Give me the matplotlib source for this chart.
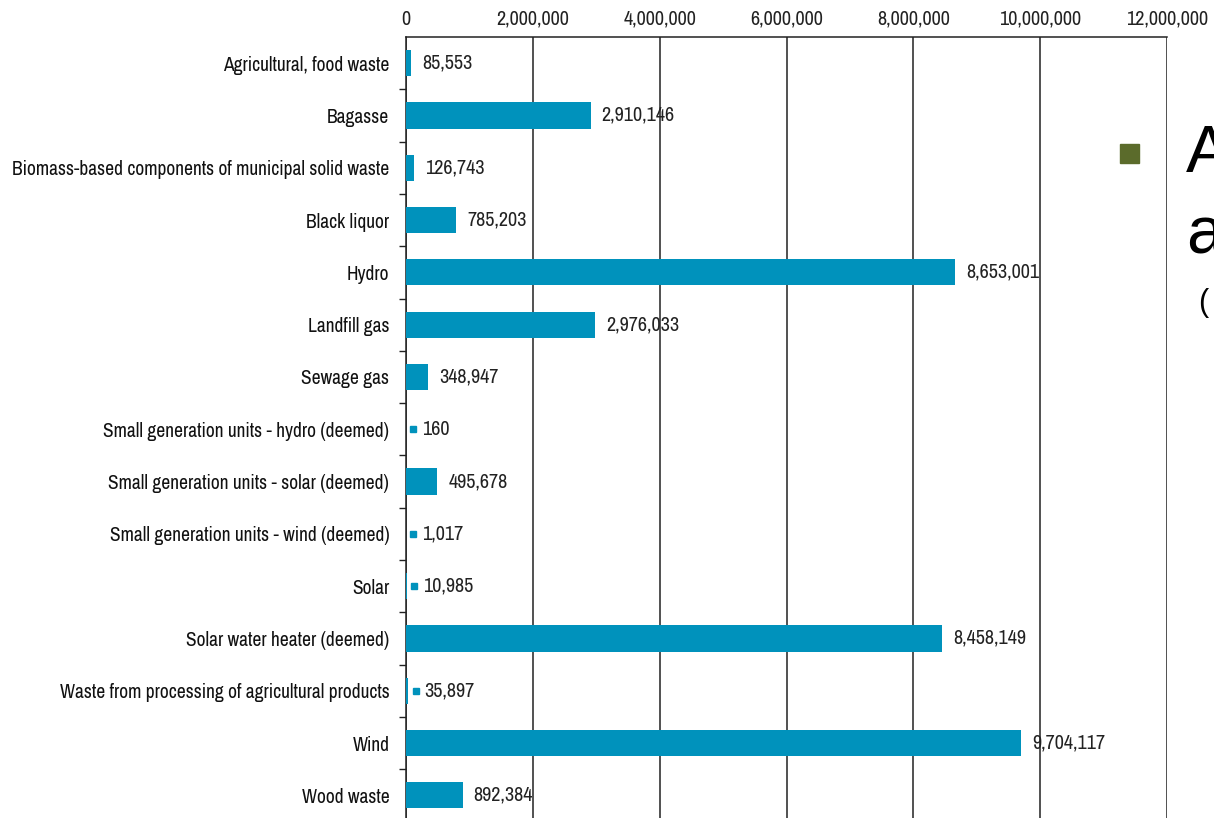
import matplotlib
matplotlib.use("Agg")
import matplotlib.pyplot as plt
from matplotlib.ticker import FuncFormatter, FixedLocator
import matplotlib.transforms as mtransforms

categories = [
    "Agricultural, food waste",
    "Bagasse",
    "Biomass-based components of municipal solid waste",
    "Black liquor",
    "Hydro",
    "Landfill gas",
    "Sewage gas",
    "Small generation units - hydro (deemed)",
    "Small generation units - solar (deemed)",
    "Small generation units - wind (deemed)",
    "Solar",
    "Solar water heater (deemed)",
    "Waste from processing of agricultural products",
    "Wind",
    "Wood waste",
]
values = [85553, 2910146, 126743, 785203, 8653001, 2976033, 348947, 160,
          495678, 1017, 10985, 8458149, 35897, 9704117, 892384]
x_ticks = [0, 2000000, 4000000, 6000000, 8000000, 10000000, 12000000]

bar_color = "#0092BC"
font = ["Liberation Sans Narrow", "Archivo Narrow", "DejaVu Sans"]
plt.rcParams["font.family"] = font
fs = 14
nfs = 14.5

fig = plt.figure(figsize=(12.14, 8.18), dpi=100)
ax = fig.add_axes([406/1214, 1 - 821.5/818, (1167-406)/1214, (821.5-37)/818])

y = list(range(len(categories)))
ax.barh(y, values, height=0.5, color=bar_color, zorder=3)
ax.set_ylim(len(categories) - 0.5, -0.5)
ax.set_xlim(0, 12000000)

ax.xaxis.set_major_locator(FixedLocator(x_ticks))
ax.xaxis.set_major_formatter(FuncFormatter(lambda v, p: f"{int(v):,}"))
ax.xaxis.tick_top()
ax.tick_params(axis="x", length=0, pad=6, labelsize=nfs, colors="#222222")
ax.grid(axis="x", color="#222222", linewidth=1.1, zorder=1)

ax.set_yticks(y)
ax.set_yticklabels(categories, fontsize=fs, color="#111111")
ax.set_yticks([i + 0.5 for i in y[:-1]], minor=True)
ax.tick_params(axis="y", which="major", length=0, pad=12)
ax.tick_params(axis="y", which="minor", length=5, width=1, color="#222222")

for s in ["right", "bottom"]:
    ax.spines[s].set_visible(False)
for s in ["top", "left"]:
    ax.spines[s].set_color("#222222")
    ax.spines[s].set_linewidth(1.1)

marker_shift = ax.transData + mtransforms.ScaledTranslation(5.3/72, 0, fig.dpi_scale_trans)
for yi, v in zip(y, values):
    if v < 50000:
        ax.plot([v], [yi], marker="s", markersize=4.3, color=bar_color,
                transform=marker_shift, zorder=4, clip_on=False)
        ax.annotate(f"{v:,}", xy=(v, yi), xytext=(11.5, 0), textcoords="offset points",
                    va="center", ha="left", fontsize=nfs, color="#222222")
    else:
        ax.annotate(f"{v:,}", xy=(v, yi), xytext=(8, 0), textcoords="offset points",
                    va="center", ha="left", fontsize=nfs, color="#222222")

# slide fragments on the right edge (cut off by the frame, as in the reference)
fig.patches.append(plt.Rectangle((1120/1214, 1 - 163/818), 19/1214, 19/818,
                                 transform=fig.transFigure, color="#5B6B2B"))
side_font = ["Liberation Sans", "DejaVu Sans"]
fig.text(1186/1214, 1 - 155/818, "A", fontsize=48, family=side_font,
         va="center", ha="left", color="black")
fig.text(1186/1214, 1 - 236/818, "a", fontsize=48, family=side_font,
         va="center", ha="left", color="black")
fig.text(1198/1214, 1 - 303/818, "(", fontsize=22, family=side_font,
         va="center", ha="left", color="black")

fig.savefig("out.png", dpi=100)
